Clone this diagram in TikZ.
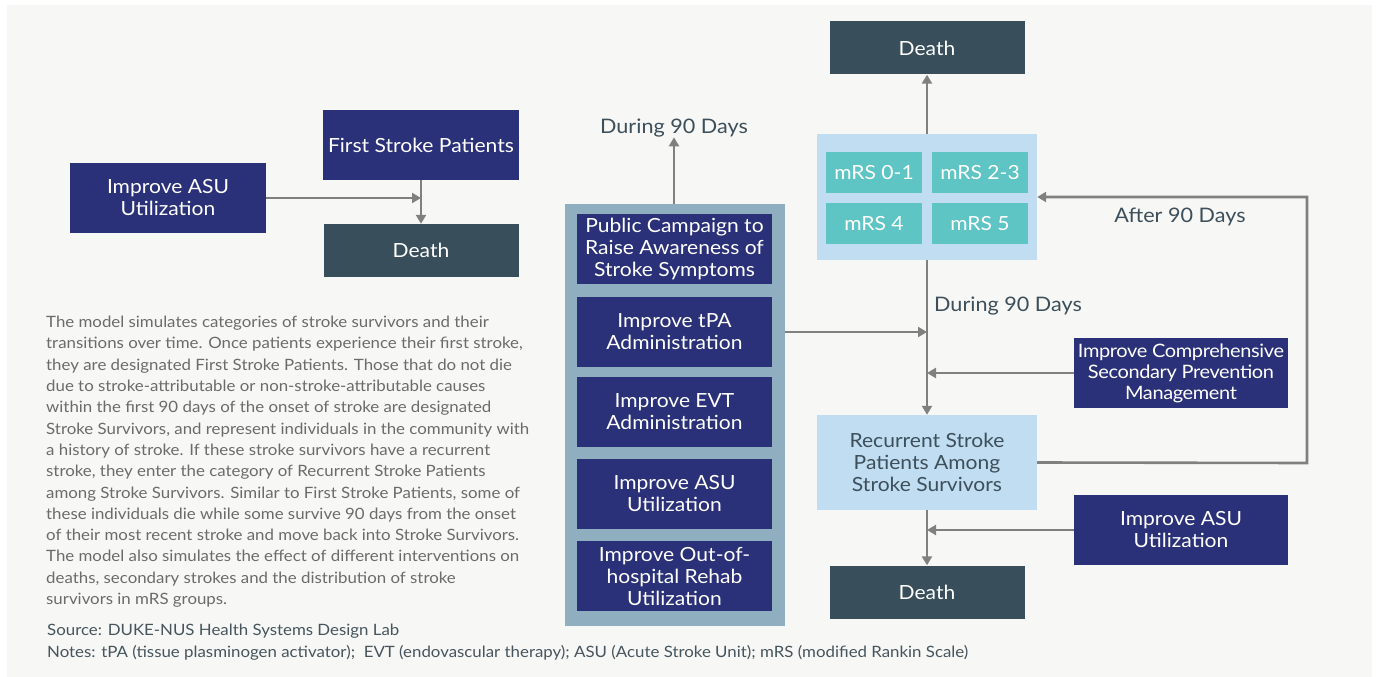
\documentclass[tikz,border=0pt]{standalone}
\usepackage{fontspec}
\setmainfont{Lato}[FakeStretch=1.08]
\usetikzlibrary{arrows.meta}
\definecolor{navy}{HTML}{2B3178}
\definecolor{slate}{HTML}{384E5A}
\definecolor{bgc}{HTML}{F7F7F5}
\definecolor{conn}{HTML}{808080}
\definecolor{steel}{HTML}{8FAFC0}
\definecolor{pale}{HTML}{C0DDF1}
\definecolor{tealc}{HTML}{5EC4C4}
\definecolor{txt}{HTML}{6B6B6B}
\definecolor{lbl}{HTML}{3D4F5A}
\tikzset{
  base/.style={inner sep=0pt, align=center, text=white, font=\fontsize{19.5}{22}\selectfont},
  navybox/.style={base, fill=navy},
  deathbox/.style={base, fill=slate, minimum width=195pt, minimum height=53pt},
  mrsbox/.style={base, fill=tealc, minimum width=96pt, minimum height=41pt},
  conn/.style={draw=conn, line width=2.6pt, -{Triangle[width=10pt,length=9pt]}},
  lab/.style={text=lbl, font=\fontsize{20}{22}\selectfont, inner sep=0pt},
}
\begin{document}
\begin{tikzpicture}[x=1pt,y=-1pt]
\useasboundingbox (0,0) rectangle (1377,677);
\fill[white] (0,0) rectangle (1377,677);
\fill[bgc] (7,5) rectangle (1372,677);

% left part
\node[navybox, minimum width=196pt, minimum height=70pt] (fsp) at (421,145) {First Stroke Patients};
\node[navybox, minimum width=196pt, minimum height=70pt] (asuL) at (168,198) {Improve ASU\\Utilization};
\node[deathbox] (deathL) at (421,250.5) {Death};
\draw[conn] (fsp.south) -- (deathL.north);
\draw[conn] (asuL.east) -- (asuL.east -| fsp.south);

% paragraph
\node[anchor=north west, align=left, inner sep=0pt, text=txt, font=\fontsize{15.6}{21.3}\selectfont] (para) at (46,316) {The model simulates categories of stroke survivors and their\\
transitions over time. Once patients experience their first stroke,\\
they are designated First Stroke Patients. Those that do not die\\
due to stroke-attributable or non-stroke-attributable causes\\
within the first 90 days of the onset of stroke are designated\\
Stroke Survivors, and represent individuals in the community with\\
a history of stroke. If these stroke survivors have a recurrent\\
stroke, they enter the category of Recurrent Stroke Patients\\
among Stroke Survivors. Similar to First Stroke Patients, some of\\
these individuals die while some survive 90 days from the onset\\
of their most recent stroke and move back into Stroke Survivors.\\
The model also simulates the effect of different interventions on\\
deaths, secondary strokes and the distribution of stroke\\
survivors in mRS groups.};
\node[anchor=north west, align=left, inner sep=0pt, text=lbl!80!txt, font=\fontsize{15.6}{22}\selectfont] (notes) at (47,624) {Source: DUKE-NUS Health Systems Design Lab\\
Notes: tPA (tissue plasminogen activator);\ \ EVT (endovascular therapy); ASU (Acute Stroke Unit); mRS (modified Rankin Scale)};

% middle container
\node[fill=steel, minimum width=220pt, minimum height=422pt, inner sep=0pt] (cont) at (675,415) {};
\node[navybox, minimum width=195pt, minimum height=70pt] (pc) at (674.5,249) {Public Campaign to\\Raise Awareness of\\Stroke Symptoms};
\node[navybox, minimum width=195pt, minimum height=70pt] (tpa) at (674.5,332) {Improve tPA\\Administration};
\node[navybox, minimum width=195pt, minimum height=70pt] (evt) at (674.5,412) {Improve EVT\\Administration};
\node[navybox, minimum width=195pt, minimum height=70pt] (asuM) at (674.5,494) {Improve ASU\\Utilization};
\node[navybox, minimum width=195pt, minimum height=70pt] (reh) at (674.5,576) {Improve Out-of-\\hospital Rehab\\Utilization};
\node[lab] (d90a) at (674,128) {During 90 Days};
\coordinate (ctop) at (674,204);
\draw[conn] (ctop) -- (d90a.south);

% right part
\node[deathbox] (deathT) at (927,48) {Death};
\node[fill=pale, minimum width=220pt, minimum height=126pt, inner sep=0pt] (mrs) at (927,197) {};
\node[mrsbox] (m01) at (874,172.5) {mRS 0-1};
\node[mrsbox] (m23) at (980,172.5) {mRS 2-3};
\node[mrsbox] (m4) at (874,223.5) {mRS 4};
\node[mrsbox] (m5) at (980,223.5) {mRS 5};
\draw[conn] (mrs.north) -- (deathT.south);

\node[base, fill=pale, text=lbl, minimum width=220pt, minimum height=95pt] (rec) at (927,462.5) {Recurrent Stroke\\Patients Among\\Stroke Survivors};
\draw[conn] (mrs.south) -- (rec.north);
\node[lab, anchor=west] (d90b) at (934,306) {During 90 Days};

\node[navybox, minimum width=214pt, minimum height=70pt, font=\fontsize{18.5}{21}\selectfont] (csp) at (1181,373) {\addfontfeatures{LetterSpace=-2}Improve Comprehensive\\\addfontfeatures{LetterSpace=-2}Secondary Prevention\\\addfontfeatures{LetterSpace=-2}Management};
\draw[conn] (csp.west) -- (csp.west -| rec.north);
\draw[conn] (cont.east |- tpa.east) -- (tpa.east -| rec.north);

\node[navybox, minimum width=214pt, minimum height=70pt] (asuR) at (1181,530) {Improve ASU\\Utilization};
\node[deathbox] (deathB) at (927,592) {Death};
\draw[conn] (rec.south) -- (deathB.north);
\draw[conn] (asuR.west) -- (asuR.west -| rec.south);

\coordinate (loopc) at (1307,463);
\draw[conn] (rec.east) -- (loopc) |- (mrs.east);
\node[lab] (a90) at (1180,217) {After 90 Days};
\end{tikzpicture}
\end{document}
